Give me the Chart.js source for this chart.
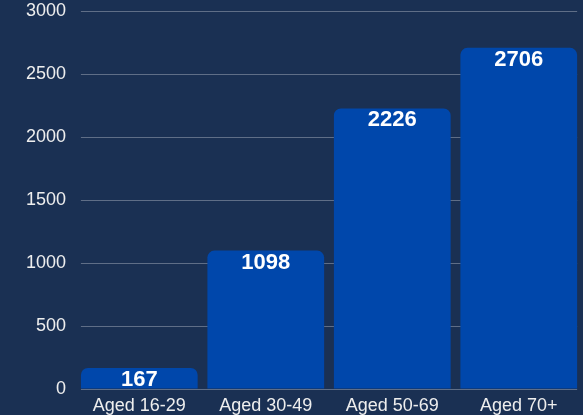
<!DOCTYPE html>
<html><head><meta charset="utf-8">
<script src="https://cdn.jsdelivr.net/npm/chart.js@4"></script>
<style>html,body{margin:0;padding:0;background:#1a3053;overflow:hidden;}#w{position:absolute;left:0;top:-10px;width:583px;height:425px;}</style>
</head><body><div id="w"><canvas id="c"></canvas></div>
<script>
const categories = ["Aged 16-29","Aged 30-49","Aged 50-69","Aged 70+"];
const values = [167,1098,2226,2706];
const yTicks = [0,500,1000,1500,2000,2500,3000];

const gridPlugin = {
  id:'hgrid',
  beforeDatasetsDraw(chart){
    const ctx = chart.ctx;
    const y = chart.scales.y;
    const bars = chart.getDatasetMeta(0).data;
    const first = bars[0], last = bars[bars.length-1];
    const x0 = first.x - first.width/2, x1 = last.x + last.width/2;
    ctx.save();
    ctx.strokeStyle = 'rgba(255,255,255,0.3)';
    ctx.lineWidth = 1;
    yTicks.forEach(v=>{
      const py = Math.round(y.getPixelForValue(v)) + 0.5;
      ctx.beginPath(); ctx.moveTo(x0, py); ctx.lineTo(x1, py); ctx.stroke();
    });
    ctx.restore();
  }
};

const labelPlugin = {
  id:'vlabels',
  afterDatasetsDraw(chart){
    const ctx = chart.ctx;
    const meta = chart.getDatasetMeta(0);
    ctx.save();
    ctx.font = 'bold 22px "Liberation Sans", Arial, sans-serif';
    ctx.fillStyle = '#ffffff';
    ctx.textAlign = 'center';
    ctx.textBaseline = 'middle';
    meta.data.forEach((bar,i)=>{
      ctx.fillText(String(values[i]), bar.x, bar.y + 12);
    });
    ctx.restore();
  }
};

new Chart(document.getElementById('c'),{
  type:'bar',
  data:{labels:categories,datasets:[{data:values,backgroundColor:'#0047ab',borderRadius:7,borderSkipped:'bottom',barPercentage:0.923,categoryPercentage:1.0}]},
  options:{
    responsive:true,maintainAspectRatio:false,animation:false,
    layout:{padding:{top:0,right:1,left:16,bottom:0}},
    plugins:{legend:{display:false},tooltip:{enabled:false}},
    scales:{
      x:{grid:{display:false,drawTicks:false},border:{display:false},
         ticks:{color:'#eeeeee',font:{family:'"Liberation Sans", Arial, sans-serif',size:18},padding:6},
         afterFit(s){s.height=26;}},
      y:{min:0,max:3000,afterBuildTicks(s){s.ticks=yTicks.map(v=>({value:v}));},
         grid:{drawOnChartArea:false,drawTicks:false},border:{display:false},
         ticks:{color:'#eeeeee',font:{family:'"Liberation Sans", Arial, sans-serif',size:18},padding:10,callback:(v)=>String(v)}}
    }
  },
  plugins:[gridPlugin,labelPlugin]
});
</script></body></html>
